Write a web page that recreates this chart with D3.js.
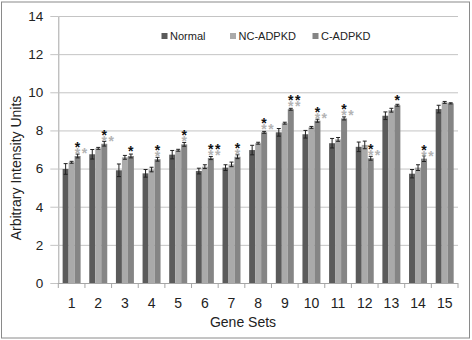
<!DOCTYPE html>
<html lang="en">
<head>
    <meta charset="UTF-8">
    <title>Arbitrary Intensity Units by Gene Set</title>
    <script src="https://d3js.org/d3.v7.min.js"></script>
    <style>
        body { margin: 0; background: #fff; }
        svg { display: block; font-family: "Liberation Sans", Arial, sans-serif; }
    </style>
</head>
<body>
    <div id="chart"></div>
    <script>
        // data
        const geneSets = ["1","2","3","4","5","6","7","8","9","10","11","12","13","14","15"];
        const seriesNames = ["Normal", "NC-ADPKD", "C-ADPKD"];
        const normalVals = [5.98, 6.75, 5.91, 5.75, 6.73, 5.87, 6.05, 6.97, 7.90, 7.80, 7.33, 7.14, 8.77, 5.73, 9.12];
        const ncVals     = [6.33, 7.06, 6.59, 5.95, 6.96, 6.10, 6.22, 7.33, 8.38, 8.16, 7.53, 7.24, 9.06, 6.05, 9.47];
        const cVals      = [6.66, 7.30, 6.66, 6.49, 7.27, 6.55, 6.62, 7.90, 9.11, 8.51, 8.63, 6.54, 9.32, 6.52, 9.42];
        const normalErr  = [0.28, 0.25, 0.33, 0.20, 0.22, 0.15, 0.15, 0.25, 0.20, 0.20, 0.25, 0.25, 0.20, 0.22, 0.20];
        const ncErr      = [0.05, 0.05, 0.10, 0.12, 0.05, 0.10, 0.12, 0.05, 0.05, 0.05, 0.10, 0.20, 0.10, 0.15, 0.05];
        const cErr       = [0.10, 0.12, 0.10, 0.10, 0.10, 0.08, 0.10, 0.05, 0.05, 0.08, 0.08, 0.10, 0.05, 0.15, 0.03];
        // significance marks above the C-ADPKD bar
        const blackStars = [1, 1, 1, 1, 1, 2, 1, 1, 2, 1, 1, 1, 1, 1, 0];
        const grayStars  = [2, 2, 0, 1, 1, 2, 1, 2, 2, 2, 2, 2, 0, 2, 0];
        const yTicks = [0, 2, 4, 6, 8, 10, 12, 14];

        const colors = {"Normal": "#5b5b5b", "NC-ADPKD": "#aaaaaa", "C-ADPKD": "#858585"};

        const W = 472, H = 340;
        const plot = {left: 58.3, right: 458, top: 16, bottom: 283};

        const svg = d3.select("#chart").append("svg")
            .attr("width", W)
            .attr("height", H);

        // outer frame
        svg.append("rect")
            .attr("x", 1.5).attr("y", 2)
            .attr("width", 468).attr("height", 336)
            .attr("fill", "#fff")
            .attr("stroke", "#8a8a8a");

        const x = d3.scaleBand()
            .domain(geneSets)
            .range([plot.left, plot.right])
            .paddingInner(0.325)
            .paddingOuter(0.1625);

        const xSeries = d3.scaleBand()
            .domain(seriesNames)
            .range([0, x.bandwidth()]);

        const y = d3.scaleLinear()
            .domain([0, 14])
            .range([plot.bottom, plot.top]);

        // gridlines + y labels
        const yAxis = svg.append("g")
            .attr("transform", `translate(${plot.left},0)`)
            .call(d3.axisLeft(y).tickValues(yTicks).tickSize(8).tickPadding(7)
                .tickSizeOuter(0));
        yAxis.select(".domain").attr("stroke", "#a6a6a6");
        yAxis.selectAll(".tick line").attr("stroke", "#c4c4c4");
        yAxis.selectAll(".tick text")
            .attr("font-size", 13.5)
            .attr("fill", "#222");
        yAxis.selectAll(".tick").append("line")
            .attr("x1", 0).attr("x2", plot.right - plot.left)
            .attr("stroke", d => d === 0 ? "#a6a6a6" : "#c4c4c4");

        // x axis ticks at category boundaries
        const step = x.step();
        const bounds = d3.range(geneSets.length + 1).map(i => plot.left + i * step);
        svg.append("g").selectAll("line")
            .data(bounds)
            .enter().append("line")
            .attr("x1", d => d).attr("x2", d => d)
            .attr("y1", plot.bottom).attr("y2", plot.bottom + 5)
            .attr("stroke", "#a6a6a6");

        svg.append("g").selectAll("text")
            .data(geneSets)
            .enter().append("text")
            .attr("x", d => x(d) + x.bandwidth() / 2)
            .attr("y", 308)
            .attr("text-anchor", "middle")
            .attr("font-size", 14)
            .attr("fill", "#222")
            .text(d => d);

        // bars
        const valuesBySeries = {"Normal": normalVals, "NC-ADPKD": ncVals, "C-ADPKD": cVals};
        const errBySeries = {"Normal": normalErr, "NC-ADPKD": ncErr, "C-ADPKD": cErr};
        const rows = [];
        geneSets.forEach((g, i) => {
            seriesNames.forEach(s => {
                rows.push({g, s, v: valuesBySeries[s][i], e: errBySeries[s][i]});
            });
        });

        svg.append("g").selectAll("rect")
            .data(rows)
            .enter().append("rect")
            .attr("x", d => x(d.g) + xSeries(d.s))
            .attr("y", d => y(d.v))
            .attr("width", xSeries.bandwidth())
            .attr("height", d => y(0) - y(d.v))
            .attr("fill", d => colors[d.s]);

        // error bars
        const eb = svg.append("g").attr("stroke", "#222").attr("stroke-width", 1);
        rows.forEach(d => {
            const cx = x(d.g) + xSeries(d.s) + xSeries.bandwidth() / 2;
            eb.append("line")
                .attr("x1", cx).attr("x2", cx)
                .attr("y1", y(d.v - d.e)).attr("y2", y(d.v + d.e));
            [d.v - d.e, d.v + d.e].forEach(v => {
                eb.append("line")
                    .attr("x1", cx - 2).attr("x2", cx + 2)
                    .attr("y1", y(v)).attr("y2", y(v));
            });
        });

        // significance stars, one text per row, starting at the C-ADPKD bar centre
        const stars = svg.append("g")
            .attr("font-size", 14)
            .attr("font-weight", "bold")
            .attr("letter-spacing", 1.5);
        geneSets.forEach((g, i) => {
            const cx = x(g) + xSeries("C-ADPKD") + xSeries.bandwidth() / 2 - 2.8;
            const top = y(cVals[i]);
            const blackY = grayStars[i] > 0 ? top - 12 : top - 8;
            if (blackStars[i] > 0) {
                stars.append("text")
                    .attr("x", cx)
                    .attr("y", blackY + 8)
                    .attr("fill", "#111")
                    .text("*".repeat(blackStars[i]));
            }
            if (grayStars[i] > 0) {
                stars.append("text")
                    .attr("x", cx)
                    .attr("y", top - 6 + 8)
                    .attr("fill", "#b4b4b4")
                    .text("*".repeat(grayStars[i]));
            }
        });

        // legend
        const legendX = [161.5, 230, 312.5];
        const legend = svg.append("g");
        seriesNames.forEach((s, i) => {
            legend.append("rect")
                .attr("x", legendX[i]).attr("y", 33)
                .attr("width", 6).attr("height", 6)
                .attr("fill", colors[s]);
            legend.append("text")
                .attr("x", legendX[i] + 8.5)
                .attr("y", 40)
                .attr("font-size", 11)
                .attr("fill", "#222")
                .text(s);
        });

        // axis titles
        svg.append("text")
            .attr("x", 243)
            .attr("y", 327)
            .attr("text-anchor", "middle")
            .attr("font-size", 14)
            .attr("fill", "#222")
            .text("Gene Sets");

        svg.append("text")
            .attr("transform", "translate(21,168) rotate(-90)")
            .attr("text-anchor", "middle")
            .attr("font-size", 14)
            .attr("fill", "#222")
            .text("Arbitrary Intensity Units");
    </script>
</body>
</html>
